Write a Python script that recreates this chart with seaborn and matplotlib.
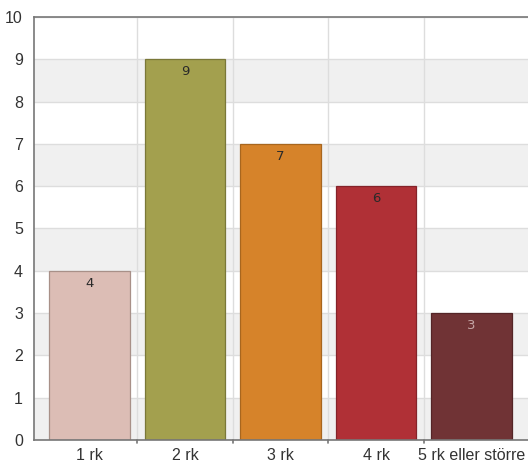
import matplotlib
matplotlib.use("Agg")
import matplotlib.pyplot as plt
import seaborn as sns
import pandas as pd

categories = ["1 rk", "2 rk", "3 rk", "4 rk", "5 rk eller större"]
counts = [4, 9, 7, 6, 3]
bar_colors = ["#dcbdb5", "#a3a04e", "#d6832a", "#b03036", "#703335"]
edge_colors = ["#a89088", "#7a7838", "#a8661e", "#85232a", "#542527"]
label_colors = ["#2a2a2a", "#2a2a2a", "#2a2a2a", "#2a2a2a", "#c4a4a4"]
y_ticks = list(range(0, 11))

df = pd.DataFrame({"cat": categories, "n": counts})

sns.set_theme(style="white")
plt.rcParams["font.family"] = ["Liberation Sans", "DejaVu Sans"]

fig = plt.figure(figsize=(5.28, 4.63), dpi=100)
ax = fig.add_axes([34 / 528, 23 / 463, 1 - 34 / 528, (440 - 17) / 463])

# alternating horizontal bands
for lo in range(0, 10, 2):
    ax.axhspan(lo, lo + 1, color="#f0f0f0", zorder=0, lw=0)
for y in y_ticks:
    ax.axhline(y, color="#dddddd", lw=1, zorder=0.5)
for x in [0.5, 1.5, 2.5, 3.5]:
    ax.axvline(x, color="#dddddd", lw=1, zorder=0.5)

sns.barplot(data=df, x="cat", y="n", hue="cat", palette=bar_colors,
            legend=False, width=0.84, ax=ax, saturation=1,
            linewidth=0.9, zorder=2)
bars = [b for cont in ax.containers for b in cont]
for patch, ec in zip(bars, edge_colors):
    patch.set_edgecolor(ec)

for i, (v, c) in enumerate(zip(counts, label_colors)):
    ax.text(i, v - 0.3, str(v), ha="center", va="center", fontsize=9.5,
            color=c, zorder=3, family="DejaVu Sans")

ax.set_xlim(-0.58, 4.59)
ax.set_ylim(0, 10)
ax.set_yticks(y_ticks)
ax.set_xlabel("")
ax.set_ylabel("")
ax.set_xticks([0, 1, 2, 3, 4])
ax.set_xticklabels(categories)
ax.tick_params(axis="both", labelsize=11.5, colors="#333333", length=0, pad=4)
ax.tick_params(axis="x", pad=6)
ax.tick_params(axis="y", length=4, color="#777777", direction="out")

for side in ["left", "top", "bottom"]:
    ax.spines[side].set_visible(True)
    ax.spines[side].set_color("#777777")
    ax.spines[side].set_linewidth(1.2)
ax.spines["right"].set_visible(False)

# small ticks at category boundaries
for x in [0.5, 1.5, 2.5, 3.5]:
    ax.plot([x, x], [0, -0.08], color="#777777", lw=1.2, clip_on=False, zorder=4)

fig.savefig("out.png", dpi=100)
